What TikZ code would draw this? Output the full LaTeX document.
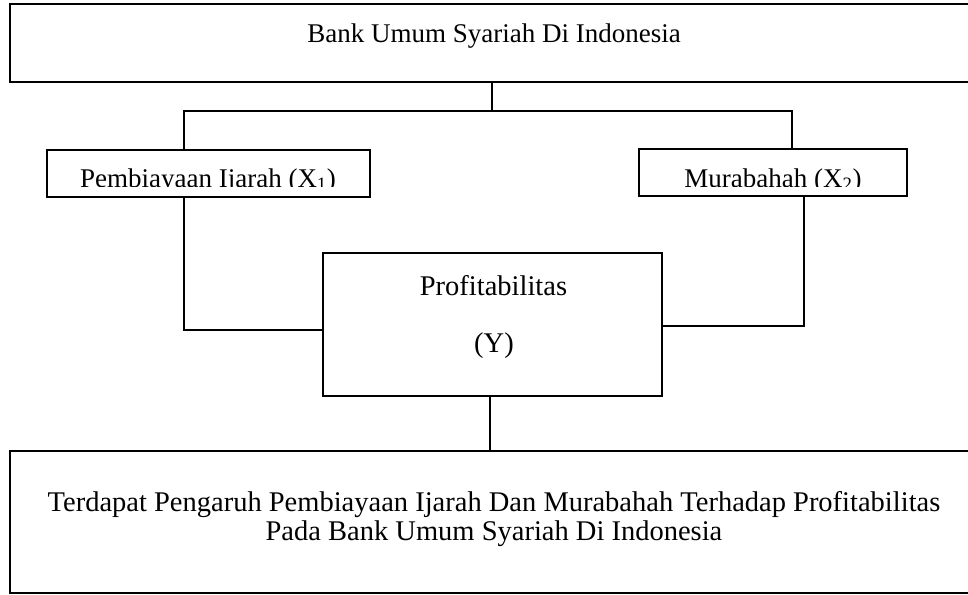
\documentclass[tikz,border=0pt]{standalone}
\usepackage{fontspec}
\setmainfont{Liberation Serif}
\begin{document}
\begin{tikzpicture}[x=1pt,y=-1pt,line width=1.8pt,
  box/.style={draw, rectangle, inner sep=0pt},
  lbl/.style={inner sep=0pt, font=\fontsize{27}{29}\selectfont},
  biglbl/.style={inner sep=0pt, font=\fontsize{28.5}{29}\selectfont}]
\clip (0,0) rectangle (968,594);
% boxes
\node[box, minimum width=980pt, minimum height=78pt] (bank) at (500,43) {};
\node[lbl, anchor=base] (banktxt) at (494,42) {Bank Umum Syariah Di Indonesia};

\node[box, minimum width=323pt, minimum height=47pt] (ijarah) at (208.5,173.5) {};
\begin{scope}
  \clip (47,150) rectangle (370,186);
  \node[lbl, anchor=base] (ijarahtxt) at (208,187) {Pembiayaan Ijarah (X\textsubscript{1})};
\end{scope}

\node[box, minimum width=268pt, minimum height=47pt] (murabahah) at (773,172.5) {};
\begin{scope}
  \clip (639,149) rectangle (907,186);
  \node[lbl, anchor=base] (murabahahtxt) at (773,187) {Murabahah (X\textsubscript{2})};
\end{scope}

\node[box, minimum width=339pt, minimum height=143pt] (profit) at (492.5,324.5) {};
\node[biglbl, anchor=base] (profittxt) at (493.5,295) {Profitabilitas};
\node[biglbl, anchor=base] (ytxt) at (494,352) {(Y)};

\node[box, minimum width=980pt, minimum height=142pt] (outcome) at (500,522) {};
\node[biglbl, align=center] (outcometxt) at (494,519) {Terdapat Pengaruh Pembiayaan Ijarah Dan Murabahah Terhadap Profitabilitas\\Pada Bank Umum Syariah Di Indonesia};

% connectors
\coordinate (j) at (492,111);
\coordinate (jl) at (184,111);
\coordinate (jr) at (792,111);
\draw (j |- bank.south) -- (j);
\draw (jl |- ijarah.north) -- (jl) -- (jr) -- (jr |- murabahah.north);
\coordinate (bl) at (184,330);
\draw (bl |- ijarah.south) -- (bl) -- (bl -| profit.west);
\coordinate (br) at (804,326);
\draw (br |- murabahah.south) -- (br) -- (br -| profit.east);
\coordinate (bm) at (490,424);
\draw (bm |- profit.south) -- (bm |- outcome.north);
\end{tikzpicture}
\end{document}
